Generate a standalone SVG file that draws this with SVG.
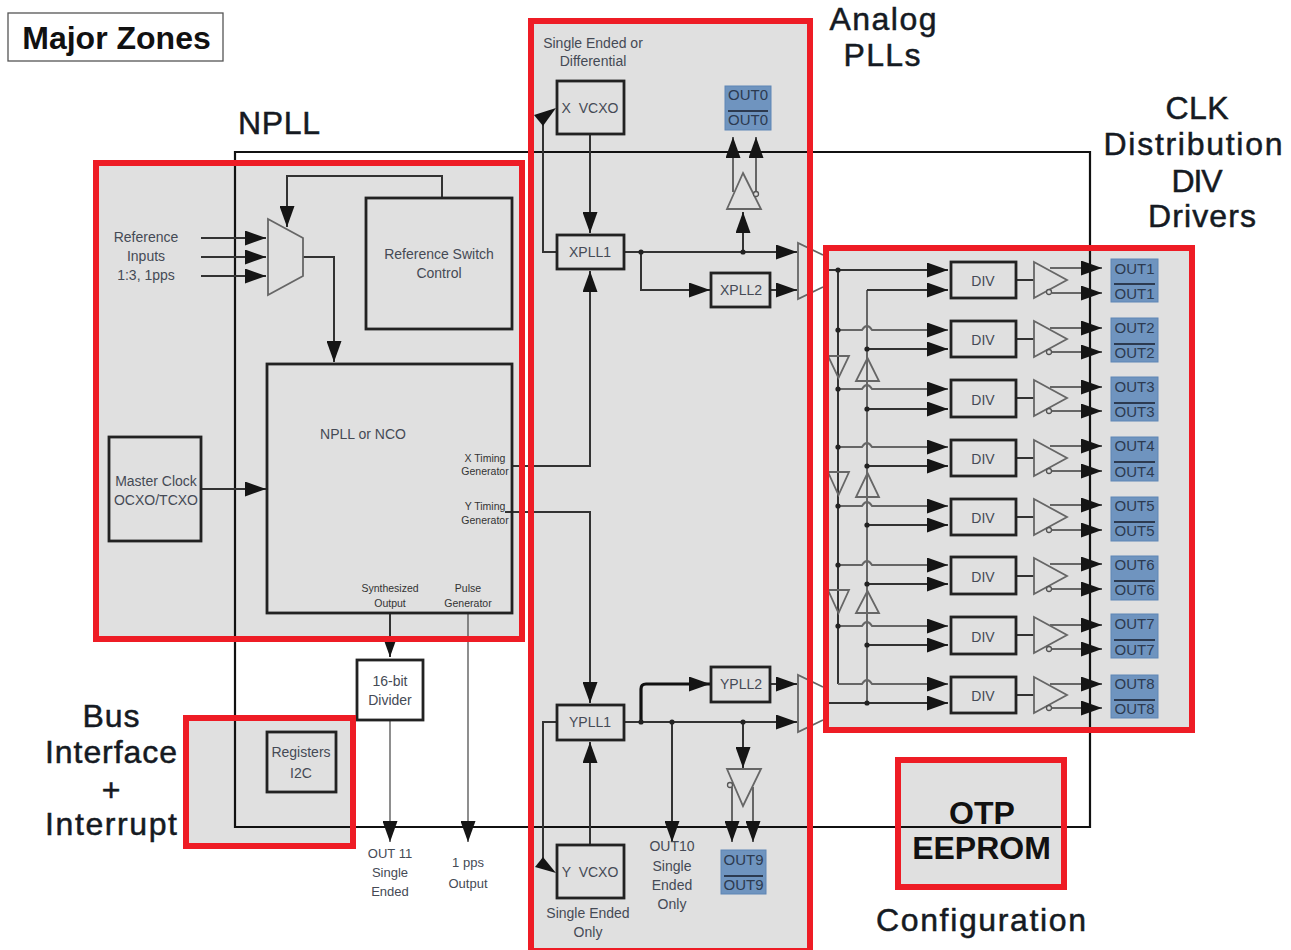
<svg xmlns="http://www.w3.org/2000/svg" width="1291" height="950" viewBox="0 0 1291 950">
<style>
text{font-family:"Liberation Sans",Arial,sans-serif;text-anchor:middle;fill:#454a55}
.big{font-size:32px;fill:#151a22;stroke:#151a22;stroke-width:.5}
.bold{font-size:32px;font-weight:bold;fill:#111}
.s{font-size:14px}.n{font-size:13px}.xs{font-size:10.5px;fill:#333}.o{font-size:15px;fill:#2c3a50}
.zone{fill:#e0e0e0}.red{fill:none;stroke:#ee1c25;stroke-width:6}
.box{fill:none;stroke:#222;stroke-width:2.8}
.l{fill:none;stroke:#333;stroke-width:2}
.g{fill:none;stroke:#666;stroke-width:2}
.th{fill:none;stroke:#111;stroke-width:3.2;stroke-linejoin:round}
.thin{fill:none;stroke:#444;stroke-width:1.2}
.ar{marker-end:url(#a)}
.tri{fill:none;stroke:#666;stroke-width:1.8}
.blue{fill:#6f94bf;stroke:#5f86b5;stroke-width:1}
.sep{stroke:#2c3a50;stroke-width:1.8}
.frame{fill:none;stroke:#111;stroke-width:2.2}
.dot{fill:#222}
.bub{fill:#e0e0e0;stroke:#555;stroke-width:1.3}
</style>
<defs>
<marker id="a" markerUnits="userSpaceOnUse" markerWidth="21" markerHeight="15" refX="21" refY="7.500" orient="auto"><path d="M0 0L21 7.500L0 15z" fill="#151515"/></marker>
</defs>
<rect width="1291" height="950" fill="#fff"/>
<g id="zone-fills">
<rect class="zone" x="96" y="163" width="426" height="476"/>
<rect class="zone" x="531" y="21" width="279" height="927"/>
<rect class="zone" x="826" y="248" width="366" height="482"/>
<rect class="zone" x="186" y="718" width="167" height="128"/>
<rect class="zone" x="898" y="760" width="166" height="127"/>
</g>
<path id="frame" class="frame" d="M235 827V152H1090V827Z"/>
<g id="connectors">
<path class="l ar" d="M201 238H266"/><path class="l ar" d="M201 257H266"/><path class="l ar" d="M201 276H266"/>
<path class="l ar" d="M442 198V176H287V227"/>
<path class="l ar" d="M303 257H334V362"/>
<path class="l ar" d="M201 489H266"/>
<path class="l ar" d="M390 613V657"/>
<path class="thin ar" d="M390 720V842"/>
<path class="thin ar" d="M468 613V842"/>
<path class="l ar" d="M512 466H590V271"/>
<path class="l ar" d="M505 512H590V703"/>
<path class="l ar" d="M590 134V233"/>
<path class="l" d="M557 252H543V120"/>
<polygon points="534,115 556,108 543,126" fill="#151515"/>
<path class="l ar" d="M624 252H797"/>
<path class="l ar" d="M641 252V290H710"/>
<path class="l ar" d="M770 290H797"/>
<path class="l ar" d="M743 252V212"/>
<path class="g ar" d="M733 192V137"/><path class="g ar" d="M756 192V137"/>
<path class="l ar" d="M624 722H797"/>
<path class="th ar" d="M641 722V689Q641 684 646 684H710"/>
<path class="l ar" d="M770 684H797"/>
<path class="l ar" d="M672 722V842"/>
<path class="l ar" d="M743 722V768"/>
<path class="g ar" d="M732 787V842"/><path class="g ar" d="M753 787V842"/>
<path class="l ar" d="M590 845V742"/>
<path class="l" d="M557 722H543V862"/>
<polygon points="535,867 556,873 543,857" fill="#151515"/>
<path class="l" d="M838 270V684"/><path class="g" d="M867 290V703"/>
<path class="l ar" d="M829 270H948"/>
<path class="l ar" d="M867 290H948"/>
<path class="g ar" d="M838 330H862Q867 322 872 330H948"/><path class="l ar" d="M867 349H948"/>
<path class="g ar" d="M838 389H862Q867 381 872 389H948"/><path class="l ar" d="M867 409H948"/>
<path class="g ar" d="M838 447H862Q867 439 872 447H948"/><path class="l ar" d="M867 466H948"/>
<path class="g ar" d="M838 506H862Q867 498 872 506H948"/><path class="l ar" d="M867 525H948"/>
<path class="g ar" d="M838 565H862Q867 557 872 565H948"/><path class="l ar" d="M867 584H948"/>
<path class="g ar" d="M838 626H862Q867 618 872 626H948"/><path class="l ar" d="M867 645H948"/>
<path class="g ar" d="M838 684H862Q867 676 872 684H948"/><path class="l ar" d="M829 703H948"/>
<path class="l" d="M1016 280H1034M1016 339H1034M1016 398H1034M1016 458H1034M1016 517H1034M1016 576H1034M1016 635H1034M1016 695H1034"/>
<path class="g ar" d="M1050 268H1102"/><path class="g ar" d="M1052 293H1102"/>
<path class="g ar" d="M1050 328H1102"/><path class="g ar" d="M1052 352H1102"/>
<path class="g ar" d="M1050 387H1102"/><path class="g ar" d="M1052 411H1102"/>
<path class="g ar" d="M1050 446H1102"/><path class="g ar" d="M1052 471H1102"/>
<path class="g ar" d="M1050 505H1102"/><path class="g ar" d="M1052 530H1102"/>
<path class="g ar" d="M1050 564H1102"/><path class="g ar" d="M1052 589H1102"/>
<path class="g ar" d="M1050 625H1102"/><path class="g ar" d="M1052 649H1102"/>
<path class="g ar" d="M1050 684H1102"/><path class="g ar" d="M1052 708H1102"/>
<g class="dot"><circle cx="641" cy="252" r="2.6"/><circle cx="743" cy="252" r="2.6"/><circle cx="641" cy="722" r="2.6"/><circle cx="672" cy="722" r="2.6"/><circle cx="743" cy="722" r="2.6"/>
<circle cx="838" cy="270" r="2.6"/><circle cx="838" cy="330" r="2.6"/><circle cx="838" cy="389" r="2.6"/><circle cx="838" cy="447" r="2.6"/><circle cx="838" cy="506" r="2.6"/><circle cx="838" cy="565" r="2.6"/><circle cx="838" cy="626" r="2.6"/>
<circle cx="867" cy="349" r="2.6"/><circle cx="867" cy="409" r="2.6"/><circle cx="867" cy="466" r="2.6"/><circle cx="867" cy="525" r="2.6"/><circle cx="867" cy="584" r="2.6"/><circle cx="867" cy="645" r="2.6"/><circle cx="867" cy="703" r="2.6"/></g>
</g>
<g id="ref-mux"><polygon class="tri" points="268,219 303,238 303,276 268,295"/></g>
<g id="ref-switch"><rect class="box" x="366" y="198" width="146" height="131"/><text class="s" x="439" y="259">Reference Switch</text><text class="s" x="439" y="278">Control</text></g>
<g id="npll"><rect class="box" x="267" y="364" width="245" height="249"/><text class="s" x="363" y="439">NPLL or NCO</text>
<text class="xs" x="485" y="462">X Timing</text><text class="xs" x="485" y="475">Generator</text><text class="xs" x="485" y="510">Y Timing</text><text class="xs" x="485" y="524">Generator</text>
<text class="xs" x="390" y="592">Synthesized</text><text class="xs" x="390" y="607">Output</text><text class="xs" x="468" y="592">Pulse</text><text class="xs" x="468" y="607">Generator</text></g>
<g id="ref-inputs"><text class="s" x="146" y="242">Reference</text><text class="s" x="146" y="261">Inputs</text><text class="s" x="146" y="280">1:3, 1pps</text></g>
<g id="master-clock"><rect class="box" x="109" y="437" width="92" height="104"/><text class="s" x="156" y="486">Master Clock</text><text class="s" x="156" y="505">OCXO/TCXO</text></g>
<g id="divider16"><rect class="box" style="fill:#fff" x="357" y="660" width="66" height="60"/><text class="s" x="390" y="686">16-bit</text><text class="s" x="390" y="705">Divider</text></g>
<g id="registers"><rect class="box" x="267" y="732" width="69" height="60"/><text class="s" x="301" y="757">Registers</text><text class="s" x="301" y="778">I2C</text></g>
<g id="out11"><text class="n" x="390" y="858">OUT 11</text><text class="n" x="390" y="877">Single</text><text class="n" x="390" y="896">Ended</text></g>
<g id="pps"><text class="n" x="468" y="867">1 pps</text><text class="n" x="468" y="888">Output</text></g>
<g id="xvcxo"><rect class="box" x="557" y="81" width="67" height="53"/><text class="s" word-spacing="4" x="590" y="113">X VCXO</text></g>
<g id="xpll1"><rect class="box" x="557" y="235" width="67" height="34"/><text class="s" x="590" y="257">XPLL1</text></g>
<g id="xpll2"><rect class="box" x="711" y="273" width="59" height="34"/><text class="s" x="741" y="295">XPLL2</text></g>
<g id="ypll1"><rect class="box" x="557" y="705" width="67" height="35"/><text class="s" x="590" y="727">YPLL1</text></g>
<g id="ypll2"><rect class="box" x="711" y="667" width="59" height="35"/><text class="s" x="741" y="689">YPLL2</text></g>
<g id="yvcxo"><rect class="box" x="557" y="845" width="67" height="53"/><text class="s" word-spacing="4" x="590" y="877">Y VCXO</text></g>
<g id="analog-notes"><text class="s" x="593" y="48">Single Ended or</text><text class="s" x="593" y="66">Differential</text><text class="s" x="588" y="918">Single Ended</text><text class="s" x="588" y="937">Only</text>
<text class="s" x="672" y="851">OUT10</text><text class="s" x="672" y="871">Single</text><text class="s" x="672" y="890">Ended</text><text class="s" x="672" y="909">Only</text></g>
<g id="mux-x"><polyline class="tri" points="823,255 798,243 798,299 823,287"/></g>
<g id="mux-y"><polyline class="tri" points="823,687 798,675 798,732 823,720"/></g>
<g id="buf-out0"><polygon class="tri" points="743,173 761,209 727,209"/><circle class="bub" cx="756" cy="194" r="2.5"/></g>
<g id="buf-out9"><polygon class="tri" points="727,769 761,769 743,806"/><circle class="bub" cx="730" cy="785" r="2.5"/></g>
<g id="out0"><rect class="blue" x="725" y="86" width="46" height="44"/><line class="sep" x1="728" x2="768" y1="111" y2="111"/><text class="o" x="748" y="100">OUT0</text><text class="o" x="748" y="125">OUT0</text></g>
<g id="out9"><rect class="blue" x="721" y="850" width="45" height="44"/><line class="sep" x1="724" x2="763" y1="876" y2="876"/><text class="o" x="743.500" y="865">OUT9</text><text class="o" x="743.500" y="890">OUT9</text></g>
<g id="dist-buffers">
<polygon class="tri" points="828,356 849,356 838.500,378"/><polygon class="tri" points="828,472 849,472 838.500,495"/><polygon class="tri" points="828,590 849,590 838.500,613"/>
<polygon class="tri" points="867.500,358 879,381 856,381"/><polygon class="tri" points="867.500,473 879,497 856,497"/><polygon class="tri" points="867.500,591 879,613 856,613"/>
</g>
<g id="div1"><rect class="box" x="951" y="262" width="65" height="36"/><text class="s" x="983" y="286">DIV</text><polygon class="tri" points="1034,262 1067,280 1034,298"/><circle class="bub" cx="1049" cy="292" r="2.5"/></g>
<g id="div2"><rect class="box" x="951" y="321" width="65" height="36"/><text class="s" x="983" y="345">DIV</text><polygon class="tri" points="1034,321 1067,339 1034,357"/><circle class="bub" cx="1049" cy="352" r="2.5"/></g>
<g id="div3"><rect class="box" x="951" y="380" width="65" height="37"/><text class="s" x="983" y="405">DIV</text><polygon class="tri" points="1034,380 1067,398 1034,416"/><circle class="bub" cx="1049" cy="411" r="2.5"/></g>
<g id="div4"><rect class="box" x="951" y="440" width="65" height="36"/><text class="s" x="983" y="464">DIV</text><polygon class="tri" points="1034,440 1067,458 1034,476"/><circle class="bub" cx="1049" cy="471" r="2.5"/></g>
<g id="div5"><rect class="box" x="951" y="499" width="65" height="36"/><text class="s" x="983" y="523">DIV</text><polygon class="tri" points="1034,499 1067,517 1034,535"/><circle class="bub" cx="1049" cy="530" r="2.5"/></g>
<g id="div6"><rect class="box" x="951" y="557" width="65" height="37"/><text class="s" x="983" y="582">DIV</text><polygon class="tri" points="1034,558 1067,576 1034,594"/><circle class="bub" cx="1049" cy="589" r="2.5"/></g>
<g id="div7"><rect class="box" x="951" y="617" width="65" height="37"/><text class="s" x="983" y="642">DIV</text><polygon class="tri" points="1034,617 1067,635 1034,653"/><circle class="bub" cx="1049" cy="649" r="2.5"/></g>
<g id="div8"><rect class="box" x="951" y="677" width="65" height="36"/><text class="s" x="983" y="701">DIV</text><polygon class="tri" points="1034,677 1067,695 1034,713"/><circle class="bub" cx="1049" cy="708" r="2.5"/></g>
<g id="out1"><rect class="blue" x="1111" y="259" width="47" height="43"/><line class="sep" x1="1114" x2="1155" y1="284" y2="284"/><text class="o" x="1134.500" y="274">OUT1</text><text class="o" x="1134.500" y="299">OUT1</text></g>
<g id="out2"><rect class="blue" x="1111" y="318" width="47" height="44"/><line class="sep" x1="1114" x2="1155" y1="344" y2="344"/><text class="o" x="1134.500" y="333">OUT2</text><text class="o" x="1134.500" y="358">OUT2</text></g>
<g id="out3"><rect class="blue" x="1111" y="377" width="47" height="44"/><line class="sep" x1="1114" x2="1155" y1="403" y2="403"/><text class="o" x="1134.500" y="392">OUT3</text><text class="o" x="1134.500" y="417">OUT3</text></g>
<g id="out4"><rect class="blue" x="1111" y="437" width="47" height="44"/><line class="sep" x1="1114" x2="1155" y1="462" y2="462"/><text class="o" x="1134.500" y="451">OUT4</text><text class="o" x="1134.500" y="477">OUT4</text></g>
<g id="out5"><rect class="blue" x="1111" y="497" width="47" height="44"/><line class="sep" x1="1114" x2="1155" y1="522" y2="522"/><text class="o" x="1134.500" y="511">OUT5</text><text class="o" x="1134.500" y="536">OUT5</text></g>
<g id="out6"><rect class="blue" x="1111" y="556" width="47" height="44"/><line class="sep" x1="1114" x2="1155" y1="581" y2="581"/><text class="o" x="1134.500" y="570">OUT6</text><text class="o" x="1134.500" y="595">OUT6</text></g>
<g id="out7"><rect class="blue" x="1111" y="614" width="47" height="44"/><line class="sep" x1="1114" x2="1155" y1="640" y2="640"/><text class="o" x="1134.500" y="629">OUT7</text><text class="o" x="1134.500" y="655">OUT7</text></g>
<g id="out8"><rect class="blue" x="1111" y="675" width="47" height="43"/><line class="sep" x1="1114" x2="1155" y1="700" y2="700"/><text class="o" x="1134.500" y="689">OUT8</text><text class="o" x="1134.500" y="714">OUT8</text></g>
<g id="zone-borders">
<rect class="red" x="96" y="163" width="426" height="476"/>
<rect class="red" x="531" y="21" width="279" height="930"/>
<rect class="red" x="826" y="248" width="366" height="482"/>
<rect class="red" x="186" y="718" width="167" height="128"/>
<rect class="red" x="898" y="760" width="166" height="127"/>
</g>
<g id="labels">
<rect x="8" y="13" width="215" height="48" fill="#fff" stroke="#555" stroke-width="1.3"/>
<text class="bold" x="116.500" y="49">Major Zones</text>
<text class="big" x="279" y="134" textLength="82">NPLL</text>
<text class="big" x="883" y="30" textLength="107">Analog</text>
<text class="big" x="882" y="66" textLength="77">PLLs</text>
<text class="big" x="1197" y="119" textLength="63">CLK</text>
<text class="big" x="1193" y="155" textLength="179">Distribution</text>
<text class="big" x="1197" y="192" textLength="51">DIV</text>
<text class="big" x="1202" y="227" textLength="108">Drivers</text>
<text class="big" x="111" y="727" textLength="57">Bus</text>
<text class="big" x="111" y="763" textLength="132">Interface</text>
<text class="big" x="111" y="801">+</text>
<text class="big" x="111" y="835" textLength="132">Interrupt</text>
<text class="bold" x="982" y="824">OTP</text>
<text class="bold" x="981.500" y="859">EEPROM</text>
<text class="big" x="981" y="931" textLength="210">Configuration</text>
</g>
</svg>
